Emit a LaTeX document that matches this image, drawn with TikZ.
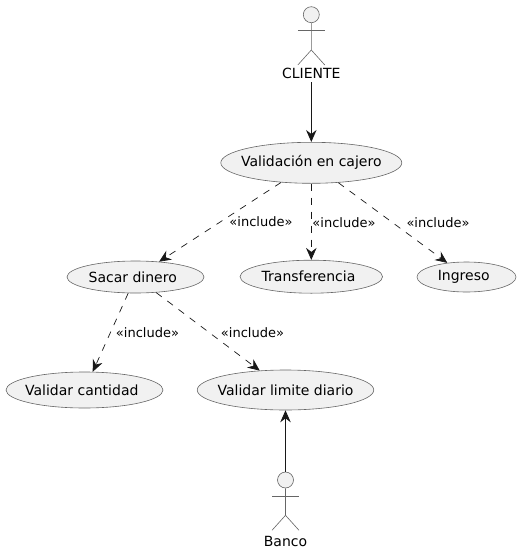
\documentclass[tikz,border=0pt]{standalone}
\usepackage{fontspec}
\setmainfont{DejaVu Sans}
\usetikzlibrary{arrows.meta, positioning, shapes.geometric}

\definecolor{usefill}{HTML}{F1F1F1}
\definecolor{useline}{HTML}{181818}
\definecolor{thinline}{HTML}{666666}

\tikzset{
	usecase/.style={ellipse, draw=thinline, line width=0.6pt, fill=usefill, inner xsep=-22pt, inner ysep=0pt, font=\fontsize{14}{16}\selectfont},
	textleft/.style={execute at end node={\kern5.5pt}},
	head/.style={circle, draw=thinline, line width=0.6pt, fill=usefill, inner sep=0pt, minimum size=16pt},
	actorname/.style={inner sep=0pt, font=\fontsize{14}{16}\selectfont},
	stereo/.style={inner sep=0pt, font=\fontsize{13}{15}\selectfont},
	limb/.style={draw=thinline, line width=0.6pt},
	assoc/.style={draw=useline, line width=1pt, -{Stealth[length=12pt, width=10.5pt, inset=4pt]}},
	incl/.style={assoc, line width=0.7pt, dash pattern=on 7pt off 7pt}
}

\begin{document}
\begin{tikzpicture}[x=1pt, y=-1pt]
	\useasboundingbox (0,0) rectangle (520,552);

	\node[usecase, minimum width=181pt, minimum height=41pt] (val) at (311.3,162.8) {Validación en cajero};
	\node[usecase, textleft, minimum width=137pt, minimum height=32pt] (sacar) at (135.5,277) {Sacar dinero};
	\node[usecase, textleft, minimum width=142.5pt, minimum height=33pt] (trans) at (311.3,276.7) {Transferencia};
	\node[usecase, textleft, minimum width=99pt, minimum height=30pt] (ingreso) at (466.5,277) {Ingreso};
	\node[usecase, textleft, minimum width=157pt, minimum height=36pt] (cantidad) at (84.5,390) {Validar cantidad};
	\node[usecase, minimum width=176.5pt, minimum height=40pt] (limite) at (285.5,390) {Validar limite diario};

	% actors
	\node[head] (cliente) at (311.3,14.7) {};
	\node[actorname] (clientename) at (311.3,73) {CLIENTE};
	\draw[limb] (cliente.south) -- ++(0,27) coordinate (clientehip) -- ++(-13.5,15);
	\draw[limb] (clientehip) -- ++(13.5,15);
	\draw[limb] (297.8,30) -- (324.8,30);

	\node[head] (banco) at (285.5,480) {};
	\node[actorname] (banconame) at (285.5,541) {Banco};
	\draw[limb] (banco.south) -- ++(0,27) coordinate (bancohip) -- ++(-13.5,15);
	\draw[limb] (bancohip) -- ++(13.5,15);
	\draw[limb] (272,496) -- (299,496);

	\draw[assoc] (clientename) ++(0,9) coordinate (clientefoot) -- (val);
	\draw[assoc] (banco) -- (limite);

	\draw[incl] (val) -- (sacar);
	\draw[incl] (val) -- (trans);
	\draw[incl] (val) -- (ingreso);
	\draw[incl] (sacar) -- (cantidad);
	\draw[incl] (sacar) -- (limite);

	\node[stereo] (l1) at (261,222) {«include»};
	\node[stereo] (l2) at (344,223) {«include»};
	\node[stereo] (l3) at (438,223) {«include»};
	\node[stereo] (l4) at (147.5,333) {«include»};
	\node[stereo] (l5) at (252.5,333) {«include»};
\end{tikzpicture}
\end{document}
